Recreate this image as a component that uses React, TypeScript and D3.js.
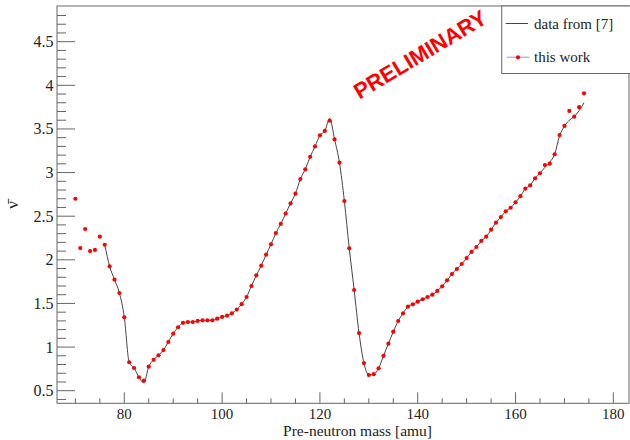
import React from "react";
import * as d3 from "d3";

// "this work" points
const workMass = [
  70, 71, 72, 73, 74, 75, 76, 77, 78, 79, 80, 81, 82, 83, 84, 85, 86, 87, 88, 89,
  90, 91, 92, 93, 94, 95, 96, 97, 98, 99, 100, 101, 102, 103, 104, 105, 106, 107, 108, 109,
  110, 111, 112, 113, 114, 115, 116, 117, 118, 119, 120, 121, 122, 123, 124, 125, 126, 127, 128, 129,
  130, 131, 132, 133, 134, 135, 136, 137, 138, 139, 140, 141, 142, 143, 144, 145, 146, 147, 148, 149,
  150, 151, 152, 153, 154, 155, 156, 157, 158, 159, 160, 161, 162, 163, 164, 165, 166, 167, 168, 169,
  170, 171, 172, 173, 174,
];
const workNu = [
  2.70, 2.135, 2.353, 2.10, 2.113, 2.265, 2.173, 1.926, 1.772, 1.62, 1.341, 0.826, 0.76, 0.654, 0.615, 0.775, 0.855, 0.906, 0.966, 1.058,
  1.153, 1.227, 1.278, 1.287, 1.287, 1.30, 1.307, 1.307, 1.307, 1.325, 1.345, 1.36, 1.387, 1.43, 1.492, 1.574, 1.70, 1.822, 1.933, 2.059,
  2.178, 2.307, 2.412, 2.531, 2.648, 2.758, 2.926, 3.037, 3.18, 3.30, 3.427, 3.477, 3.595, 3.38, 3.113, 2.674, 2.132, 1.654, 1.161, 0.817,
  0.68, 0.689, 0.757, 0.90, 1.039, 1.176, 1.299, 1.387, 1.463, 1.49, 1.52, 1.548, 1.574, 1.60, 1.643, 1.696, 1.765, 1.837, 1.895, 1.952,
  2.02, 2.09, 2.147, 2.216, 2.265, 2.345, 2.426, 2.49, 2.556, 2.597, 2.659, 2.73, 2.815, 2.854, 2.934, 2.992, 3.087, 3.102, 3.21, 3.43,
  3.534, 3.706, 3.64, 3.75, 3.908,
];

// "data from [7]" reference curve
const refMass = [
  76, 77, 78, 79, 80, 81, 82, 83, 84, 85, 86, 87, 88, 89,
  90, 91, 92, 93, 94, 95, 96, 97, 98, 99, 100, 101, 102, 103, 104, 105, 106, 107, 108, 109,
  110, 111, 112, 113, 114, 115, 116, 117, 118, 119, 120, 121, 122, 123, 124, 125, 126, 127, 128, 129,
  130, 131, 132, 133, 134, 135, 136, 137, 138, 139, 140, 141, 142, 143, 144, 145, 146, 147, 148, 149,
  150, 151, 152, 153, 154, 155, 156, 157, 158, 159, 160, 161, 162, 163, 164, 165, 166, 167, 168, 169,
  170, 171, 172, 173, 174,
];
const refNu = [
  2.173, 1.926, 1.772, 1.62, 1.341, 0.826, 0.76, 0.654, 0.59, 0.775, 0.855, 0.906, 0.966, 1.058,
  1.153, 1.227, 1.278, 1.287, 1.287, 1.30, 1.307, 1.307, 1.307, 1.325, 1.345, 1.36, 1.387, 1.43, 1.492, 1.574, 1.70, 1.822, 1.933, 2.059,
  2.178, 2.307, 2.412, 2.531, 2.648, 2.758, 2.926, 3.037, 3.18, 3.30, 3.427, 3.477, 3.62, 3.38, 3.113, 2.674, 2.132, 1.654, 1.161, 0.817,
  0.68, 0.689, 0.757, 0.90, 1.039, 1.176, 1.299, 1.387, 1.463, 1.49, 1.52, 1.548, 1.574, 1.60, 1.643, 1.696, 1.765, 1.837, 1.895, 1.952,
  2.02, 2.09, 2.147, 2.216, 2.265, 2.345, 2.426, 2.49, 2.556, 2.597, 2.659, 2.73, 2.815, 2.854, 2.934, 2.992, 3.06, 3.12, 3.21, 3.42,
  3.53, 3.60, 3.64, 3.71, 3.80,
];

const xTickLabels = [80, 100, 120, 140, 160, 180];
const yTickLabels = [0.5, 1, 1.5, 2, 2.5, 3, 3.5, 4, 4.5];
const legendLabels = ["data from [7]", "this work"];
const xTitle = "Pre-neutron mass [amu]";
const yTitle = "ν̄";
const stamp = "PRELIMINARY";

const SERIF = '"Liberation Serif", "Times New Roman", Times, serif';

export default function App() {
  const W = 630;
  const H = 440;
  const left = 57, right = 629, top = 6, bottom = 403.3;
  const x = d3.scaleLinear().domain([66.24, 183.2]).range([left, right]);
  const y = d3.scaleLinear().domain([0.3556, 4.909]).range([bottom, top]);

  const axisColor = "#666";
  const tStyle = { fontFamily: SERIF };

  const xMinor = d3.range(70, 183, 5).filter((v) => v % 20 !== 0);
  const yMinor = d3
    .range(4, 50)
    .map((v) => v / 10)
    .filter((v) => Math.round(v * 10) % 5 !== 0 && y(v) > top + 1);

  const line = d3
    .line<number>()
    .x((_, i) => x(refMass[i]))
    .y((d) => y(d))
    .curve(d3.curveMonotoneX);

  return (
    <svg width={W} height={H} style={{ position: "absolute", left: 0, top: 0, background: "#fff" }}>
      <rect x={0} y={0} width={W} height={H} fill="#fff" />
      <rect x={left} y={top} width={right - left} height={bottom - top} fill="none" stroke={axisColor} strokeWidth={1} />

      {yTickLabels.map((v) => (
        <g key={"ym" + v}>
          <line x1={left} x2={left + 18} y1={y(v)} y2={y(v)} stroke={axisColor} />
          <text x={left - 3.5} y={y(v)} dy="0.34em" textAnchor="end" fontSize={16} fill="#222" style={tStyle}>
            {v}
          </text>
        </g>
      ))}
      {yMinor.map((v) => (
        <line key={"yn" + v} x1={left} x2={left + 9} y1={y(v)} y2={y(v)} stroke={axisColor} />
      ))}

      {xTickLabels.map((v) => (
        <g key={"xm" + v}>
          <line x1={x(v)} x2={x(v)} y1={bottom} y2={bottom - 11} stroke={axisColor} />
          <text x={x(v)} y={418.5} textAnchor="middle" fontSize={15} fill="#222" style={tStyle}>
            {v}
          </text>
        </g>
      ))}
      {xMinor.map((v) => (
        <line key={"xn" + v} x1={x(v)} x2={x(v)} y1={bottom} y2={bottom - 5} stroke={axisColor} />
      ))}

      <text x={432} y={436} textAnchor="end" fontSize={15.5} fill="#222" style={tStyle}>
        {xTitle}
      </text>
      <text transform="translate(18,205) rotate(-90)" textAnchor="middle" fontSize={17} fill="#222" style={tStyle}>
        {yTitle}
      </text>

      <path d={line(refNu) || ""} fill="none" stroke="#444" strokeWidth={1} />

      {workNu.map((v, i) => (
        <circle key={"p" + i} cx={x(workMass[i])} cy={y(v)} r={2.1} fill="#ff0000" />
      ))}

      <text
        transform="translate(421,56) rotate(-31)"
        textAnchor="middle"
        dominantBaseline="middle"
        fontWeight="bold"
        fontSize={22}
        fill="#ff0000"
        style={{ fontFamily: '"Liberation Sans", Arial, sans-serif' }}
      >
        {stamp}
      </text>

      <rect x={501.7} y={top} width={140} height={67.5} fill="#fff" stroke={axisColor} />
      <line x1={505.7} x2={528} y1={23.5} y2={23.5} stroke="#444" />
      <text x={534} y={23.5} dy="0.34em" fontSize={15} fill="#222" style={tStyle}>
        {legendLabels[0]}
      </text>
      <line x1={506.7} x2={529.3} y1={57.3} y2={57.3} stroke="#b4b4ee" strokeWidth={1.5} />
      <circle cx={518} cy={57.3} r={2.1} fill="#ff0000" />
      <text x={534} y={57.3} dy="0.34em" fontSize={15} fill="#222" style={tStyle}>
        {legendLabels[1]}
      </text>
    </svg>
  );
}
